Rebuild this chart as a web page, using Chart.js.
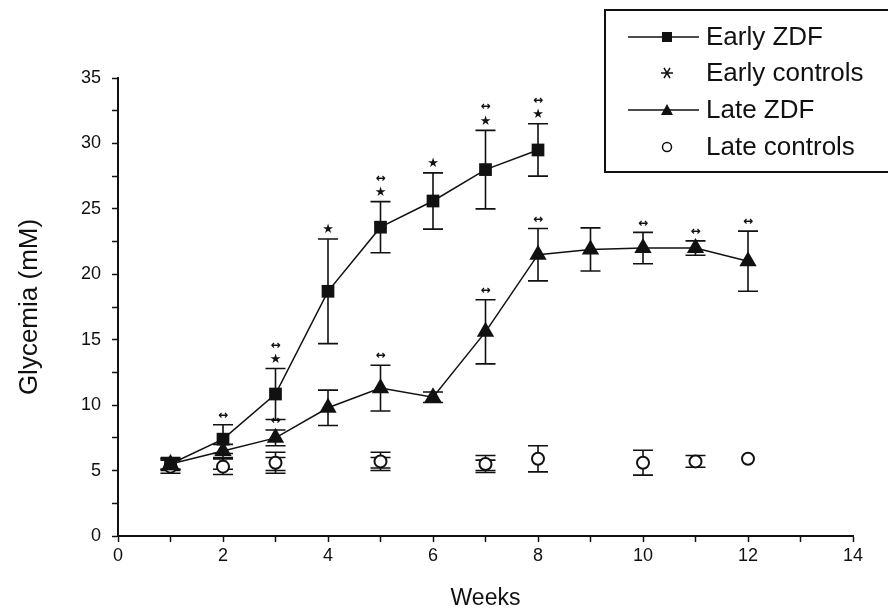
<!DOCTYPE html>
<html>
<head>
<meta charset="utf-8">
<script src="https://cdn.jsdelivr.net/npm/chart.js@4.4.1/dist/chart.umd.min.js"></script>
<style>
  html, body { margin: 0; padding: 0; background: #fff; }
  #wrap { position: relative; width: 888px; height: 615px; }
</style>
</head>
<body>
<div id="wrap"><canvas id="grafico" width="888" height="615"></canvas></div>
<script>
// Datos
const semanasEarlyZDF = [1, 2, 3, 4, 5, 6, 7, 8];
const mediaEarlyZDF = [5.5, 7.4, 10.85, 18.7, 23.6, 25.6, 28.0, 29.5];
const errorEarlyZDF = [0.5, 1.1, 1.95, 4.0, 1.95, 2.15, 3.0, 2.0];
const marcasEarlyZDF = [[], ['↔'], ['★', '↔'], ['★'], ['★', '↔'], ['★'], ['★', '↔'], ['★', '↔']];

const semanasEarlyCtrl = [1, 2, 3, 5, 7];
const mediaEarlyCtrl = [5.5, 5.5, 5.5, 5.6, 5.4];
const errorEarlyCtrl = [0.4, 0.4, 0.5, 0.4, 0.4];

const semanasLateZDF = [1, 2, 3, 4, 5, 6, 7, 8, 9, 10, 11, 12];
const mediaLateZDF = [5.5, 6.5, 7.5, 9.8, 11.3, 10.6, 15.6, 21.5, 21.9, 22.0, 22.0, 21.0];
const errorLateZDF = [0.4, 0.5, 0.6, 1.35, 1.75, 0.4, 2.45, 2.0, 1.65, 1.2, 0.55, 2.3];
const marcasLateZDF = [[], [], ['↔'], [], ['↔'], [], ['↔'], ['↔'], [], ['↔'], ['↔'], ['↔']];

const semanasLateCtrl = [1, 2, 3, 5, 7, 8, 10, 11, 12];
const mediaLateCtrl = [5.3, 5.3, 5.6, 5.7, 5.5, 5.9, 5.6, 5.7, 5.9];
const errorLateCtrl = [0.5, 0.6, 0.8, 0.7, 0.65, 1.0, 0.95, 0.45, 0];

const etiquetasLeyenda = ['Early ZDF', 'Early controls', 'Late ZDF', 'Late controls'];

const FUENTE = "'Liberation Sans', Arial, sans-serif";

function puntos(xs, ys) {
    return xs.map((x, i) => ({ x: x, y: ys[i] }));
}

// Plugin para barras de error y marcas de significancia
const barrasError = {
    id: 'barrasError',
    beforeDatasetsDraw(chart) {
        const ctx = chart.ctx;
        const xS = chart.scales.x, yS = chart.scales.y;
        ctx.save();
        ctx.strokeStyle = '#111';
        ctx.lineWidth = 1.6;
        chart.data.datasets.forEach(ds => {
            ds.data.forEach((p, i) => {
                const e = ds.errores[i];
                if (!e) return;
                const px = xS.getPixelForValue(p.x);
                const top = yS.getPixelForValue(p.y + e);
                const bot = yS.getPixelForValue(p.y - e);
                ctx.beginPath();
                ctx.moveTo(px, top); ctx.lineTo(px, bot);
                ctx.moveTo(px - 10, top); ctx.lineTo(px + 10, top);
                ctx.moveTo(px - 10, bot); ctx.lineTo(px + 10, bot);
                ctx.stroke();
            });
        });
        ctx.restore();
    },
    afterDatasetsDraw(chart) {
        const ctx = chart.ctx;
        const xS = chart.scales.x, yS = chart.scales.y;
        ctx.save();
        ctx.fillStyle = '#111';
        ctx.textAlign = 'center';
        ctx.textBaseline = 'middle';
        chart.data.datasets.forEach(ds => {
            if (!ds.marcas) return;
            ds.data.forEach((p, i) => {
                const m = ds.marcas[i];
                if (!m || !m.length) return;
                const px = xS.getPixelForValue(p.x);
                let py = yS.getPixelForValue(p.y + (ds.errores[i] || 0)) - 9;
                m.forEach(s => {
                    ctx.font = s === '★' ? '13px DejaVu Sans' : 'bold 12px DejaVu Sans';
                    ctx.fillText(s, px, py);
                    py -= 14;
                });
            });
        });
        ctx.restore();
    }
};

// Leyenda dibujada dentro del grafico
const leyenda = {
    id: 'leyenda',
    afterDraw(chart) {
        const ctx = chart.ctx;
        ctx.save();
        ctx.fillStyle = '#fff';
        ctx.fillRect(605, 10, 290, 162);
        ctx.strokeStyle = '#111';
        ctx.lineWidth = 2;
        ctx.strokeRect(605, 10, 290, 162);
        const filas = [37, 73, 110, 147];
        ctx.font = '26px ' + FUENTE;
        ctx.textBaseline = 'middle';
        ctx.textAlign = 'left';
        filas.forEach((y, i) => {
            ctx.fillStyle = '#111';
            ctx.fillText(etiquetasLeyenda[i], 706, y + 1);
            ctx.strokeStyle = '#111';
            ctx.lineWidth = 1.5;
            if (i === 0 || i === 2) {
                ctx.beginPath();
                ctx.moveTo(628, y); ctx.lineTo(699, y);
                ctx.stroke();
            }
            ctx.beginPath();
            if (i === 0) {
                ctx.fillRect(662, y - 5, 10, 10);
            } else if (i === 2) {
                ctx.moveTo(667, y - 6); ctx.lineTo(673, y + 5); ctx.lineTo(661, y + 5);
                ctx.closePath(); ctx.fill();
            } else if (i === 1) {
                for (let k = 0; k < 3; k++) {
                    const a = k * Math.PI / 3;
                    ctx.moveTo(667 - 6 * Math.cos(a), y - 6 * Math.sin(a));
                    ctx.lineTo(667 + 6 * Math.cos(a), y + 6 * Math.sin(a));
                }
                ctx.stroke();
            } else {
                ctx.arc(667, y, 4.5, 0, Math.PI * 2);
                ctx.stroke();
            }
        });
        ctx.restore();
    }
};

const ctx = document.getElementById('grafico').getContext('2d');
new Chart(ctx, {
    type: 'scatter',
    data: {
        datasets: [
            {
                label: 'Early ZDF',
                data: puntos(semanasEarlyZDF, mediaEarlyZDF),
                errores: errorEarlyZDF,
                marcas: marcasEarlyZDF,
                showLine: true,
                borderColor: '#111',
                backgroundColor: '#111',
                borderWidth: 1.5,
                pointStyle: 'rect',
                pointRadius: 9,
                pointBorderWidth: 0
            },
            {
                label: 'Late ZDF',
                data: puntos(semanasLateZDF, mediaLateZDF),
                errores: errorLateZDF,
                marcas: marcasLateZDF,
                showLine: true,
                borderColor: '#111',
                backgroundColor: '#111',
                borderWidth: 1.5,
                pointStyle: 'triangle',
                pointRadius: 10,
                pointBorderWidth: 0
            },
            {
                label: 'Late controls',
                data: puntos(semanasLateCtrl, mediaLateCtrl),
                errores: errorLateCtrl,
                showLine: false,
                borderColor: '#111',
                backgroundColor: '#fff',
                pointStyle: 'circle',
                pointRadius: 6,
                pointBorderWidth: 2
            },
            {
                label: 'Early controls',
                data: puntos(semanasEarlyCtrl, mediaEarlyCtrl),
                errores: errorEarlyCtrl,
                showLine: false,
                borderColor: '#111',
                backgroundColor: '#111',
                pointStyle: 'star',
                pointRadius: 5,
                pointBorderWidth: 1.5
            }
        ]
    },
    options: {
        responsive: false,
        animation: false,
        layout: { padding: { left: 0, right: 35, top: 78, bottom: 0 } },
        plugins: {
            legend: { display: false },
            tooltip: { enabled: false }
        },
        scales: {
            x: {
                type: 'linear',
                min: 0,
                max: 14,
                afterFit: s => { s.height = 79; },
                border: { color: '#111', width: 2 },
                grid: { drawOnChartArea: false, color: '#111', tickLength: 6, tickWidth: 1.5 },
                ticks: {
                    stepSize: 1,
                    color: '#111',
                    padding: 3,
                    maxRotation: 0,
                    autoSkip: false,
                    font: { family: FUENTE, size: 18 },
                    callback: v => (v % 2 === 0 ? v : '')
                },
                title: {
                    display: true,
                    text: 'Weeks',
                    color: '#111',
                    font: { family: FUENTE, size: 23 },
                    padding: { top: 0, bottom: 3 }
                }
            },
            y: {
                type: 'linear',
                min: 0,
                max: 35,
                afterFit: s => { s.width = 118; },
                border: { color: '#111', width: 2 },
                grid: { drawOnChartArea: false, color: '#111', tickLength: 6, tickWidth: 1.5 },
                ticks: {
                    stepSize: 2.5,
                    color: '#111',
                    padding: 11,
                    autoSkip: false,
                    font: { family: FUENTE, size: 18 },
                    callback: v => (v % 5 === 0 ? v : '')
                },
                title: {
                    display: true,
                    text: 'Glycemia (mM)',
                    color: '#111',
                    font: { family: FUENTE, size: 26 },
                    padding: { top: 14, bottom: 0 }
                }
            }
        }
    },
    plugins: [barrasError, leyenda]
});
</script>
</body>
</html>
